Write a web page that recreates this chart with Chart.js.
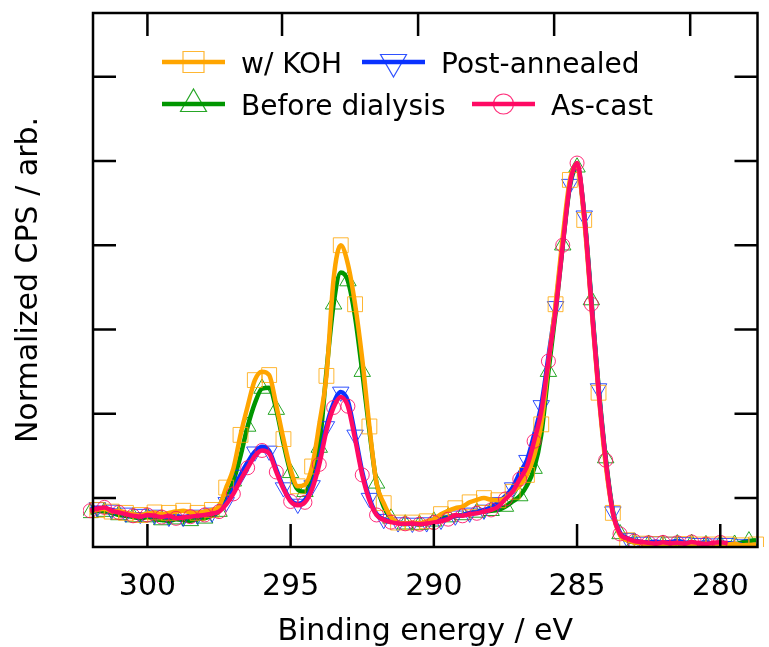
<!DOCTYPE html>
<html>
<head>
<meta charset="utf-8">
<script src="https://cdn.jsdelivr.net/npm/chart.js@4.4.1/dist/chart.umd.min.js"></script>
<style>
  html, body { margin: 0; padding: 0; background: #fff; }
</style>
</head>
<body>
<canvas id="xpsChart" width="769" height="647"></canvas>
<script>
// binding energy axis (eV), 0.25 eV steps
const energies = [
  302.0, 301.75, 301.5, 301.25, 301.0, 300.75, 300.5, 300.25,
  300.0, 299.75, 299.5, 299.25, 299.0, 298.75, 298.5, 298.25,
  298.0, 297.75, 297.5, 297.25, 297.0, 296.75, 296.5, 296.25,
  296.0, 295.75, 295.5, 295.25, 295.0, 294.75, 294.5, 294.25,
  294.0, 293.75, 293.5, 293.25, 293.0, 292.75, 292.5, 292.25,
  292.0, 291.75, 291.5, 291.25, 291.0, 290.75, 290.5, 290.25,
  290.0, 289.75, 289.5, 289.25, 289.0, 288.75, 288.5, 288.25,
  288.0, 287.75, 287.5, 287.25, 287.0, 286.75, 286.5, 286.25,
  286.0, 285.75, 285.5, 285.25, 285.0, 284.75, 284.5, 284.25,
  284.0, 283.75, 283.5, 283.25, 283.0, 282.75, 282.5, 282.25,
  282.0, 281.75, 281.5, 281.25, 281.0, 280.75, 280.5, 280.25,
  280.0, 279.75, 279.5, 279.25, 279.0, 278.75
];

const withKOH = [
  0.168, 0.172, 0.175, 0.168, 0.170, 0.165, 0.162, 0.160,
  0.163, 0.166, 0.162, 0.165, 0.168, 0.170, 0.166, 0.165,
  0.168, 0.172, 0.180, 0.225, 0.270, 0.350, 0.418, 0.480,
  0.500, 0.492, 0.420, 0.340, 0.268, 0.228, 0.232, 0.275,
  0.375, 0.490, 0.720, 0.800, 0.755, 0.660, 0.530, 0.370,
  0.235, 0.188, 0.155, 0.142, 0.140, 0.142, 0.140, 0.145,
  0.150, 0.162, 0.170, 0.176, 0.180, 0.190, 0.196, 0.200,
  0.196, 0.195, 0.200, 0.215, 0.230, 0.255, 0.300, 0.375,
  0.520, 0.660, 0.820, 0.955, 0.990, 0.860, 0.655, 0.450,
  0.280, 0.165, 0.112, 0.100, 0.095, 0.092, 0.090, 0.091,
  0.092, 0.090, 0.093, 0.091, 0.089, 0.090, 0.092, 0.090,
  0.088, 0.090, 0.092, 0.088, 0.089, 0.090
];

const postAnnealed = [
  0.172, 0.178, 0.175, 0.172, 0.168, 0.165, 0.160, 0.162,
  0.158, 0.160, 0.157, 0.155, 0.157, 0.155, 0.158, 0.160,
  0.162, 0.165, 0.172, 0.190, 0.220, 0.255, 0.285, 0.310,
  0.322, 0.312, 0.268, 0.225, 0.195, 0.186, 0.195, 0.230,
  0.290, 0.370, 0.425, 0.452, 0.430, 0.350, 0.262, 0.200,
  0.162, 0.150, 0.145, 0.142, 0.140, 0.141, 0.140, 0.142,
  0.145, 0.148, 0.152, 0.158, 0.160, 0.165, 0.168, 0.172,
  0.178, 0.190, 0.205, 0.225, 0.260, 0.290, 0.350, 0.420,
  0.535, 0.655, 0.805, 0.945, 0.990, 0.870, 0.665, 0.460,
  0.290, 0.168, 0.118, 0.105, 0.100, 0.096, 0.095, 0.097,
  0.094, 0.096, 0.098, 0.095, 0.094, 0.093, 0.095, 0.092,
  0.094, 0.093, 0.092, 0.090, null, null
];

const beforeDialysis = [
  0.165, 0.170, 0.168, 0.165, 0.160, 0.158, 0.155, 0.152,
  0.155, 0.150, 0.148, 0.146, 0.150, 0.148, 0.146, 0.150,
  0.152, 0.158, 0.168, 0.195, 0.240, 0.300, 0.370, 0.425,
  0.460, 0.462, 0.410, 0.330, 0.260, 0.220, 0.215, 0.250,
  0.320, 0.500, 0.660, 0.735, 0.715, 0.630, 0.500, 0.360,
  0.235, 0.180, 0.152, 0.142, 0.138, 0.140, 0.137, 0.140,
  0.145, 0.150, 0.155, 0.158, 0.160, 0.164, 0.166, 0.168,
  0.170, 0.172, 0.180, 0.192, 0.205, 0.230, 0.270, 0.350,
  0.500, 0.640, 0.800, 0.940, 0.985, 0.875, 0.670, 0.465,
  0.295, 0.170, 0.115, 0.100, 0.095, 0.094, 0.090, 0.092,
  0.090, 0.093, 0.091, 0.090, 0.092, 0.090, 0.089, 0.092,
  0.090, 0.093, 0.090, 0.095, 0.098, 0.100
];

const asCast = [
  0.170, 0.175, 0.178, 0.170, 0.166, 0.162, 0.158, 0.156,
  0.160, 0.158, 0.155, 0.158, 0.152, 0.154, 0.156, 0.158,
  0.160, 0.163, 0.168, 0.185, 0.210, 0.243, 0.272, 0.300,
  0.313, 0.306, 0.262, 0.222, 0.192, 0.183, 0.190, 0.222,
  0.280, 0.360, 0.415, 0.440, 0.418, 0.340, 0.255, 0.195,
  0.160, 0.148, 0.143, 0.140, 0.139, 0.140, 0.138, 0.140,
  0.142, 0.145, 0.150, 0.160, 0.158, 0.162, 0.164, 0.168,
  0.172, 0.180, 0.198, 0.215, 0.245, 0.275, 0.335, 0.405,
  0.525, 0.645, 0.800, 0.945, 0.995, 0.870, 0.660, 0.455,
  0.290, 0.165, 0.115, 0.104, 0.098, 0.096, 0.094, 0.092,
  0.095, 0.093, 0.094, 0.092, 0.096, 0.093, 0.091, 0.094,
  0.095, 0.093, null, null, null, null
];

const xTickValues = [300, 295, 290, 285, 280];
const topTickValues = [300, 295.3, 290.55, 285.8, 281.05];
const yTickValues = [0.2, 0.4, 0.6, 0.8, 1.0, 1.2];

const FONT = "'DejaVu Sans', sans-serif";

function toPoints(ys) {
  return energies.map((e, i) => ({ x: e, y: ys[i] }));
}

// markers only on every second point, offset per series
function every2(offset, r) {
  return ctx => (ctx.dataIndex % 2 === offset ? r : 0);
}

function series(label, ys, color, markColor, style, rot, r, offset, legend) {
  return {
    label: label,
    data: toPoints(ys),
    borderColor: color,
    borderWidth: 4.5,
    backgroundColor: color,
    fill: false,
    cubicInterpolationMode: 'monotone',
    pointStyle: style,
    rotation: rot,
    pointRadius: every2(offset, r),
    pointHoverRadius: 0,
    pointBorderColor: markColor,
    pointBackgroundColor: 'rgba(0,0,0,0)',
    pointBorderWidth: 1,
    clip: { left: 10, right: 10, top: 0, bottom: 0 },
    legendPos: legend
  };
}

// first dataset is drawn on top
const datasets = [
  series('As-cast', asCast, '#ff0a64', 'rgba(255,10,100,0.85)', 'circle', 0, 7, 0, { x: 472, y: 104 }),
  series('w/ KOH', withKOH, '#ffa500', 'rgba(255,165,0,0.8)', 'rect', 0, 10.5, 1, { x: 162, y: 62 }),
  series('Post-annealed', postAnnealed, '#0a32ff', 'rgba(10,50,255,0.85)', 'triangle', 180, 9.5, 1, { x: 362, y: 62 }),
  series('Before dialysis', beforeDialysis, '#009600', 'rgba(0,150,0,0.85)', 'triangle', 0, 9.5, 0, { x: 162, y: 104 })
];

function drawMarker(ctx, style, rot, x, y, r) {
  ctx.beginPath();
  if (style === 'circle') {
    ctx.arc(x, y, r, 0, Math.PI * 2);
  } else if (style === 'rect') {
    ctx.rect(x - r, y - r, 2 * r, 2 * r);
  } else {
    const s = rot === 180 ? -1 : 1;
    const h = r * Math.sqrt(3) / 2;
    ctx.moveTo(x, y - s * r);
    ctx.lineTo(x + h, y + s * r / 2);
    ctx.lineTo(x - h, y + s * r / 2);
    ctx.closePath();
  }
  ctx.stroke();
}

const framePlugin = {
  id: 'frame',
  afterDraw(chart) {
    const { ctx, chartArea: a, scales } = chart;
    ctx.save();
    ctx.strokeStyle = '#000';
    ctx.lineWidth = 2.5;
    ctx.strokeRect(a.left, a.top, a.right - a.left, a.bottom - a.top);
    const tl = 23;
    ctx.beginPath();
    xTickValues.forEach(v => {
      const px = scales.x.getPixelForValue(v);
      ctx.moveTo(px, a.bottom);
      ctx.lineTo(px, a.bottom - tl);
    });
    topTickValues.forEach(v => {
      const px = scales.x.getPixelForValue(v);
      ctx.moveTo(px, a.top);
      ctx.lineTo(px, a.top + tl);
    });
    yTickValues.forEach(v => {
      const py = scales.y.getPixelForValue(v);
      ctx.moveTo(a.left, py);
      ctx.lineTo(a.left + tl, py);
      ctx.moveTo(a.right, py);
      ctx.lineTo(a.right - tl, py);
    });
    ctx.stroke();

    // legend
    ctx.font = '28px ' + FONT;
    ctx.textBaseline = 'alphabetic';
    ctx.fillStyle = '#000';
    chart.data.datasets.forEach(ds => {
      const p = ds.legendPos;
      ctx.strokeStyle = ds.borderColor;
      ctx.lineWidth = 4.5;
      ctx.beginPath();
      ctx.moveTo(p.x, p.y);
      ctx.lineTo(p.x + 63, p.y);
      ctx.stroke();
      ctx.strokeStyle = ds.pointBorderColor;
      ctx.lineWidth = 1.2;
      const r = ds.pointStyle === 'circle' ? 10 : ds.pointStyle === 'rect' ? 10.5 : 15;
      drawMarker(ctx, ds.pointStyle, ds.rotation, p.x + 31.5, p.y, r);
      ctx.fillText(ds.label, p.x + 79, p.y + 10.5);
    });
    ctx.restore();
  }
};

new Chart(document.getElementById('xpsChart'), {
  type: 'line',
  data: { datasets: datasets },
  options: {
    responsive: false,
    animation: false,
    devicePixelRatio: 1,
    layout: { padding: { top: 13, right: 6, left: 0, bottom: 0 } },
    plugins: {
      legend: { display: false },
      tooltip: { enabled: false }
    },
    scales: {
      x: {
        type: 'linear',
        reverse: true,
        min: 278.7,
        max: 301.9,
        afterBuildTicks: s => { s.ticks = xTickValues.map(v => ({ value: v })); },
        afterFit: s => { s.height = 100; },
        grid: { display: false },
        border: { display: false },
        ticks: {
          color: '#000',
          font: { family: FONT, size: 30 },
          padding: 14,
          maxRotation: 0,
          callback: v => String(v)
        },
        title: {
          display: true,
          text: 'Binding energy / eV',
          color: '#000',
          font: { family: FONT, size: 30 },
          padding: { top: 0, bottom: -3 }
        }
      },
      y: {
        type: 'linear',
        min: 0.084,
        max: 1.351,
        afterFit: s => { s.width = 93; },
        grid: { display: false },
        border: { display: false },
        ticks: { display: false },
        title: {
          display: true,
          text: 'Normalized CPS / arb.',
          color: '#000',
          font: { family: FONT, size: 30 },
          padding: { top: 11, bottom: 0 }
        }
      }
    }
  },
  plugins: [framePlugin]
});
</script>
</body>
</html>
